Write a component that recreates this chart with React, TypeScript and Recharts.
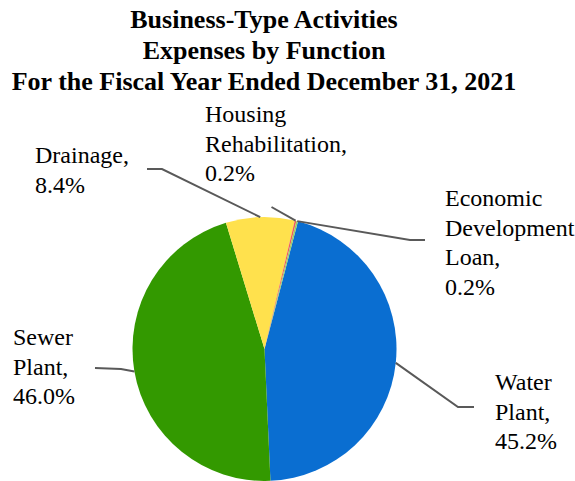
import React from 'react';
import { PieChart, Pie, Cell } from 'recharts';

const TITLE_LINES = [
  'Business-Type Activities',
  'Expenses by Function',
  'For the Fiscal Year Ended December 31, 2021',
];

const FUNCTIONS = [
  'Water Plant',
  'Sewer Plant',
  'Drainage',
  'Housing Rehabilitation',
  'Economic Development Loan',
];
const SHARES = [45.2, 46.0, 8.4, 0.2, 0.2];
const COLORS = ['#0A6ED1', '#339900', '#FFE14D', '#F05A5A', '#99CC66'];

// label placement, relative to the pie centre (text = first baseline, left edge)
const LABEL_LAYOUT = [
  { tx: 230.5, ty: 41, elbow: [193.5, 58], end: [209.5, 58] },
  { tx: -251.5, ty: -4, elbow: [-143.5, 20], end: [-169.5, 19] },
  { tx: -229.5, ty: -186, elbow: [-102.5, -180], end: [-117.5, -180] },
  { tx: -59.5, ty: -227, elbow: [7, -142], end: [7, -142] },
  { tx: 180.5, ty: -143, elbow: [145.5, -109], end: [160.5, -109] },
];

const RAD = Math.PI / 180;
const LINE_H = 29.5;

const chartData = FUNCTIONS.map((name, i) => ({ name, value: SHARES[i] }));

const renderLabel = (props: any) => {
  const { cx, cy, midAngle, outerRadius, index, name, value } = props;
  const lay = LABEL_LAYOUT[index];
  const sx = cx + outerRadius * Math.cos(-midAngle * RAD);
  const sy = cy + outerRadius * Math.sin(-midAngle * RAD);
  const words = String(name).split(' ');
  const lines = [...words.slice(0, -1), words[words.length - 1] + ',', `${Number(value).toFixed(1)}%`];
  const pts = `${sx},${sy} ${cx + lay.elbow[0]},${cy + lay.elbow[1]} ${cx + lay.end[0]},${cy + lay.end[1]}`;
  return (
    <g key={`lbl-${index}`}>
      <polyline points={pts} fill="none" stroke="#595959" strokeWidth={2} />
      {lines.map((ln, i) => (
        <text
          key={i}
          x={cx + lay.tx}
          y={cy + lay.ty + i * LINE_H}
          fill="#000"
          fontFamily='"Liberation Serif", serif'
          fontSize={24}
        >
          {ln}
        </text>
      ))}
    </g>
  );
};

export default function App() {
  return (
    <div style={{ position: 'relative', width: 575, height: 481, background: '#fff' }}>
      <style>{`body { margin: 0; }`}</style>
      <svg width={575} height={100} style={{ position: 'absolute', left: 0, top: 0 }}>
        {TITLE_LINES.map((t, i) => (
          <text
            key={t}
            x={264}
            y={28 + i * 31}
            textAnchor="middle"
            fill="#000"
            fontFamily='"Liberation Serif", serif'
            fontSize={26}
            fontWeight="bold"
          >
            {t}
          </text>
        ))}
      </svg>
      <div style={{ position: 'absolute', left: 0, top: 0 }}>
        <PieChart width={575} height={481} margin={{ top: 0, right: 0, bottom: 0, left: 0 }}>
          <Pie
            data={chartData}
            dataKey="value"
            nameKey="name"
            cx={264.5}
            cy={349}
            outerRadius={132}
            startAngle={75.3}
            endAngle={-284.7}
            stroke="none"
            label={renderLabel}
            labelLine={false}
            isAnimationActive={false}
          >
            {chartData.map((entry, index) => (
              <Cell key={`cell-${index}`} fill={COLORS[index]} />
            ))}
          </Pie>
        </PieChart>
      </div>
    </div>
  );
}
